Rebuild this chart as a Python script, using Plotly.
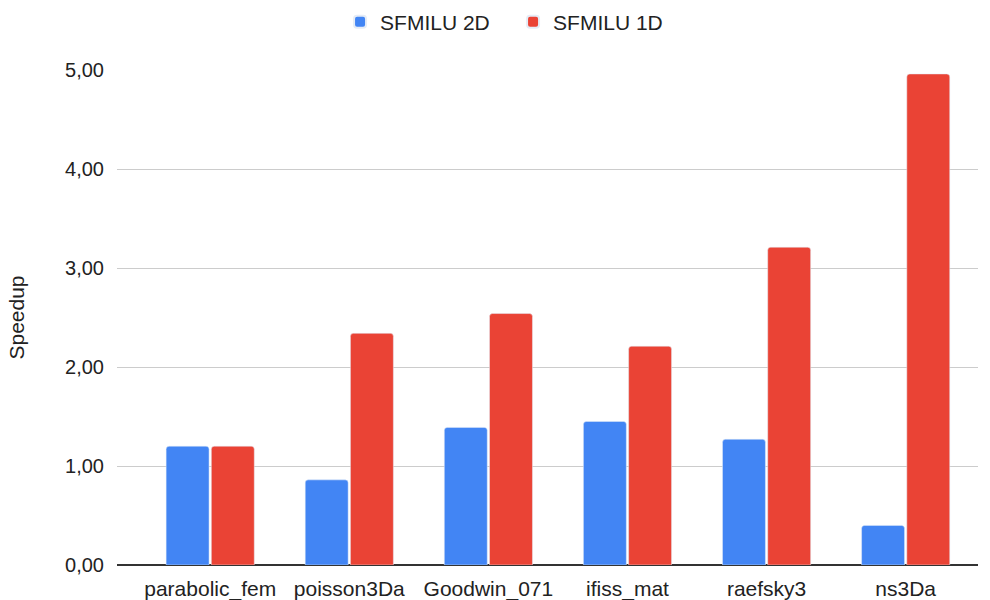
import plotly.graph_objects as go

categories = ["parabolic_fem", "poisson3Da", "Goodwin_071", "ifiss_mat", "raefsky3", "ns3Da"]
sfmilu_2d = [1.20, 0.86, 1.39, 1.45, 1.27, 0.40]
sfmilu_1d = [1.20, 2.34, 2.54, 2.21, 3.21, 4.96]
y_ticks = [0, 1, 2, 3, 4, 5]

fig = go.Figure()
fig.add_trace(go.Bar(name="SFMILU 2D", x=categories, y=sfmilu_2d, marker_color="#4285F4"))
fig.add_trace(go.Bar(name="SFMILU 1D", x=categories, y=sfmilu_1d, marker_color="#EA4335"))

fig.update_layout(
    width=990, height=600,
    margin=dict(l=117, r=12, t=70, b=35, autoexpand=False),
    paper_bgcolor="white", plot_bgcolor="white",
    font=dict(family="Liberation Sans, Arial, sans-serif", size=20, color="#222222"),
    separators=", ",
    barmode="group", bargap=0.35, bargroupgap=0.05,
    barcornerradius=3,
    legend=dict(orientation="h", x=0.46, xanchor="center", y=1.097, yanchor="middle",
                font=dict(size=21), itemsizing="constant", entrywidth=128, entrywidthmode="pixels"),
    showlegend=True,
)
fig.update_yaxes(range=[0, 5], tickvals=y_ticks, tickformat=".2f",
                 showgrid=True, gridcolor="#cccccc", gridwidth=1,
                 zeroline=True, zerolinecolor="#333333", zerolinewidth=1.5,
                 ticks="", ticklen=0, showline=False, ticklabelstandoff=12,
                 title=dict(text="Speedup", standoff=34, font=dict(size=21)))
fig.update_xaxes(range=[-0.67, 5.52], showgrid=False, ticks="", showline=False,
                 ticklabelstandoff=9, tickfont=dict(size=21))

fig.write_html("out.html")
